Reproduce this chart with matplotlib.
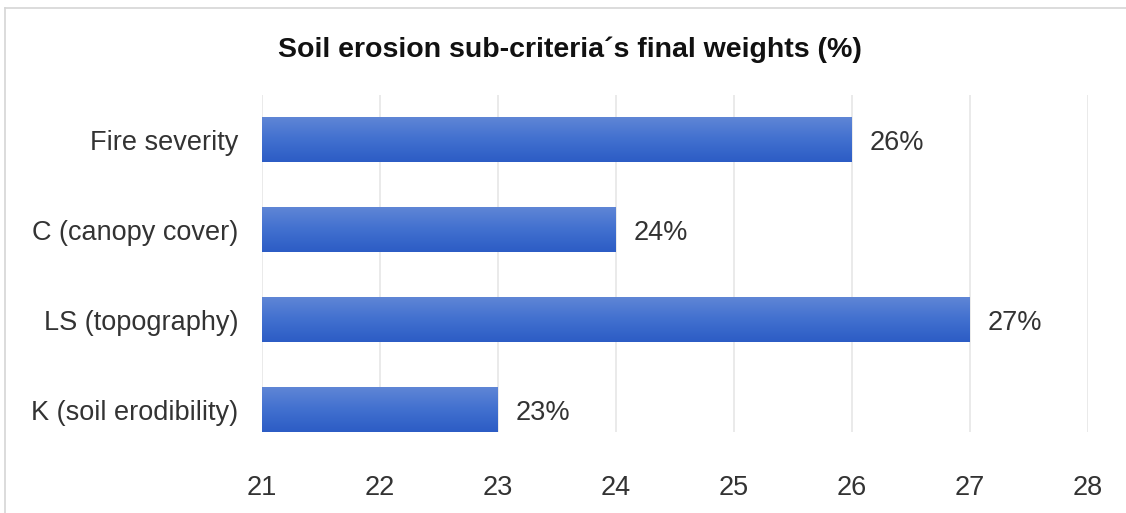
import numpy as np
import matplotlib
matplotlib.use("Agg")
import matplotlib.pyplot as plt
from matplotlib.colors import LinearSegmentedColormap
from matplotlib.lines import Line2D

categories = ["Fire severity", "C (canopy cover)", "LS (topography)", "K (soil erodibility)"]
weights = [26, 24, 27, 23]
value_labels = ["26%", "24%", "27%", "23%"]
x_ticks = [21, 22, 23, 24, 25, 26, 27, 28]
title = "Soil erosion sub-criteria\u00b4s final weights (%)"

plt.rcParams["font.family"] = ["Liberation Sans", "DejaVu Sans"]
text_color = "#333333"

W, H = 1126, 513
fig = plt.figure(figsize=(W / 100, H / 100), dpi=100)
fig.patch.set_facecolor("white")

left, right, top, bottom = 262, 1088, 95, 432
ax = fig.add_axes([left / W, 1 - bottom / H, (right - left) / W, (bottom - top) / H])

y = np.arange(len(categories))
x0 = x_ticks[0]
bar_h = 0.5
bars = ax.barh(y, np.array(weights) - x0, left=x0, height=bar_h,
               color="#3f69cc", edgecolor="none", zorder=2)

# vertical gradient fill clipped to each bar
cmap = LinearSegmentedColormap.from_list("barfill", ["#5f86d6", "#4170cf", "#2c5cc5"])
grad = np.linspace(0, 1, 256).reshape(-1, 1)
for b in bars:
    bx, by = b.get_x(), b.get_y()
    bw, bh = b.get_width(), b.get_height()
    im = ax.imshow(grad, cmap=cmap, aspect="auto", origin="upper",
                   extent=[bx, bx + bw, by + bh, by], zorder=3, interpolation="bilinear")
    im.set_clip_path(b)

for yi, v, lab in zip(y, weights, value_labels):
    ax.text(v + 0.15, yi, lab, va="center_baseline", ha="left", fontsize=19.5,
            color=text_color, zorder=4)

ax.set_xlim(x_ticks[0], x_ticks[-1])
ax.set_ylim(3 + 22.5 / 90, -44.5 / 90)
ax.set_xticks(x_ticks)
ax.set_yticks(y)
ax.set_yticklabels(categories)
ax.grid(axis="x", color="#e6e6e6", linewidth=1.2, zorder=0)
ax.set_axisbelow(True)
for s in ax.spines.values():
    s.set_visible(False)
ax.tick_params(axis="x", length=0, pad=31, labelsize=19.5, labelcolor=text_color)
ax.tick_params(axis="y", length=0, pad=17, labelsize=19.5, labelcolor=text_color)

fig.text(570 / W, 1 - 50 / H, title, ha="center", va="center",
         fontsize=20.5, fontweight="bold", color="#111111")

# thin frame along top and left edges
fig.add_artist(Line2D([5 / W, 1], [1 - 8 / H, 1 - 8 / H], color="#d6d6d6", linewidth=1.2))
fig.add_artist(Line2D([5 / W, 5 / W], [0, 1 - 8 / H], color="#d6d6d6", linewidth=1.2))

fig.savefig("out.png", dpi=100, facecolor="white")
